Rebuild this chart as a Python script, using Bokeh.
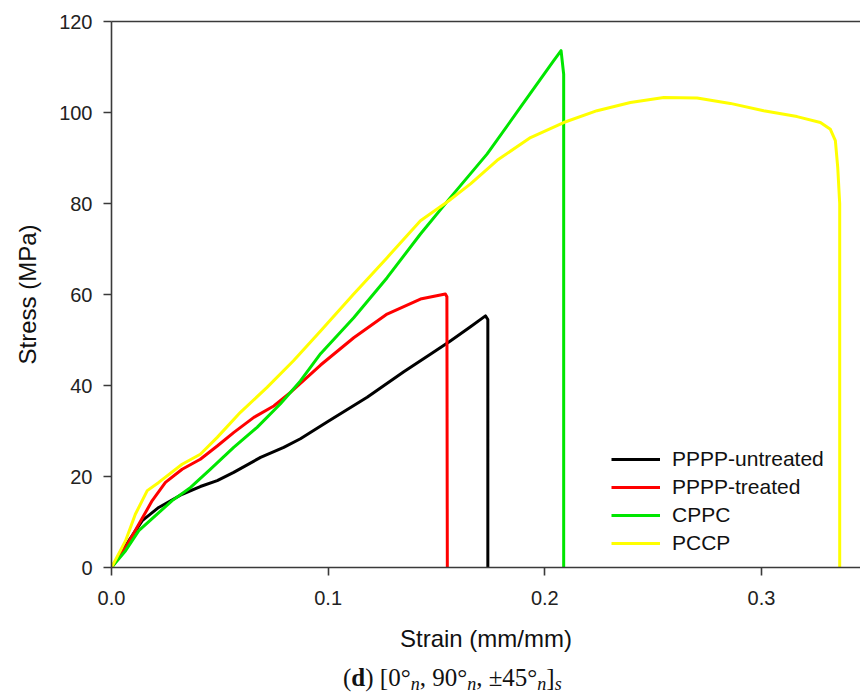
from bokeh.plotting import figure
from bokeh.models import Range1d, FixedTicker, LinearAxis, NumeralTickFormatter, Div
from bokeh.layouts import column
from bokeh.embed import file_html
from bokeh.resources import INLINE

# ---- data (strain in mm/mm, stress in MPa) ----
untreated_x = [0, 0.0065, 0.0142, 0.0218, 0.0326, 0.041, 0.0488, 0.0564, 0.0688, 0.0795,
               0.0872, 0.0995, 0.118, 0.1349, 0.147, 0.1564, 0.1657, 0.1726, 0.1737, 0.1737]
untreated_y = [0, 4.8, 10.3, 13.2, 16.1, 17.8, 19.1, 20.9, 24.2, 26.4,
               28.3, 32.0, 37.4, 43.0, 46.8, 49.8, 52.9, 55.3, 54.5, 0]

treated_x = [0, 0.0065, 0.0126, 0.0188, 0.0249, 0.0326, 0.041, 0.0488, 0.0565, 0.0657,
             0.0749, 0.0826, 0.0965, 0.1118, 0.1272, 0.1426, 0.1541, 0.1548, 0.155]
treated_y = [0, 4.4, 9.5, 14.7, 18.7, 21.6, 23.8, 26.7, 29.7, 33.0,
             35.5, 38.5, 44.5, 50.5, 55.7, 59.0, 60.1, 59.5, 0]

cppc_x = [0, 0.0065, 0.0126, 0.0203, 0.028, 0.0365, 0.0457, 0.0564, 0.0672, 0.078, 0.0872,
          0.0965, 0.1118, 0.1272, 0.1426, 0.1564, 0.1734, 0.1887, 0.2041, 0.2075, 0.2087, 0.2087]
cppc_y = [0, 3.7, 8.1, 11.4, 14.7, 17.6, 21.6, 26.4, 30.8, 36.0, 41.0,
          47.0, 54.9, 63.7, 73.3, 81.3, 90.9, 101.1, 111.4, 113.6, 108.4, 0]

pccp_x = [0, 0.0065, 0.011, 0.0165, 0.0218, 0.0326, 0.041, 0.0488, 0.0595, 0.0718, 0.0841,
          0.0965, 0.1118, 0.1272, 0.1426, 0.1557, 0.1657, 0.178, 0.1934, 0.2087, 0.2241,
          0.2395, 0.2549, 0.2703, 0.2856, 0.301, 0.3164, 0.3272, 0.3318, 0.3341, 0.3352,
          0.3361, 0.3361]
pccp_y = [0, 5.9, 11.7, 16.9, 18.7, 22.7, 24.9, 28.6, 34.1, 39.6, 45.5,
          52.0, 60.1, 68.1, 76.2, 80.6, 84.3, 89.5, 94.5, 97.8, 100.4,
          102.2, 103.3, 103.2, 102.0, 100.4, 99.1, 97.8, 96.3, 93.8, 87.9,
          80.0, 0]

series_names = ["PPPP-untreated", "PPPP-treated", "CPPC", "PCCP"]
series_colors = ["#000000", "#ff0000", "#00e600", "#ffff00"]
x_ticks = [0.0, 0.1, 0.2, 0.3]
y_ticks = [0, 20, 40, 60, 80, 100, 120]

FONT = "Liberation Sans"
AXC = "#3a3a3a"

p = figure(width=860, height=664, output_backend="svg", toolbar_location=None,
           x_range=Range1d(0, 0.3457), y_range=Range1d(0, 120),
           min_border_left=111, min_border_right=0, min_border_top=21, min_border_bottom=97,
           background_fill_color="white", border_fill_color="white")
p.outline_line_color = None
p.grid.visible = False

data = [(untreated_x, untreated_y), (treated_x, treated_y), (cppc_x, cppc_y), (pccp_x, pccp_y)]
for (xs, ys), name, col in zip(data, series_names, series_colors):
    p.line(xs, ys, line_color=col, line_width=3, legend_label=name, line_join="round")

for ax in (p.xaxis[0], p.yaxis[0]):
    ax.axis_line_color = AXC
    ax.axis_line_width = 1.6
    ax.major_tick_line_color = AXC
    ax.major_tick_line_width = 1.6
    ax.major_tick_out = 8
    ax.major_tick_in = 0
    ax.minor_tick_line_color = None
    ax.major_label_text_font = FONT
    ax.major_label_text_font_size = "20px"
    ax.major_label_text_color = "#222222"
    ax.axis_label_text_font = FONT
    ax.axis_label_text_font_size = "24px"
    ax.axis_label_text_font_style = "normal"
    ax.axis_label_text_color = "#111111"

p.xaxis.ticker = FixedTicker(ticks=x_ticks)
p.xaxis.formatter = NumeralTickFormatter(format="0.0")
p.yaxis.ticker = FixedTicker(ticks=y_ticks)
p.xaxis.axis_label = "Strain (mm/mm)"
p.yaxis.axis_label = "Stress (MPa)"
p.xaxis.major_label_standoff = 15
p.xaxis.axis_label_standoff = 17
p.yaxis.major_label_standoff = 11
p.yaxis.axis_label_standoff = 15

top = LinearAxis(ticker=FixedTicker(ticks=[]), axis_line_color=AXC, axis_line_width=1.6,
                 major_tick_line_color=None, minor_tick_line_color=None,
                 major_label_text_font_size="0px")
p.add_layout(top, "above")

lg = p.legend[0]
lg.location = (500, 12)
lg.border_line_color = None
lg.background_fill_alpha = 0
lg.padding = 0
lg.margin = 0
lg.spacing = 4
lg.glyph_width = 49
lg.glyph_height = 20
lg.label_height = 20
lg.label_standoff = 12
lg.label_text_font = FONT
lg.label_text_font_size = "21px"
lg.label_text_color = "#111111"

SUB = "<span style='font-size:0.72em;vertical-align:-0.22em;line-height:0'><i>{}</i></span>"
caption_html = ("(<b>d</b>) [0&deg;" + SUB.format("n") + ", 90&deg;" + SUB.format("n") +
                ", &plusmn;45&deg;" + SUB.format("n") + "]" + SUB.format("s"))
caption = Div(text=("<div style=\"font-family:'Liberation Serif',serif;font-size:25px;"
                    "line-height:28px;color:#111;margin-left:343px;white-space:nowrap\">"
                    + caption_html + "</div>"),
              width=860, height=33, margin=0)

layout = column(p, caption, spacing=0)
open("out.html", "w").write(file_html(layout, INLINE))
